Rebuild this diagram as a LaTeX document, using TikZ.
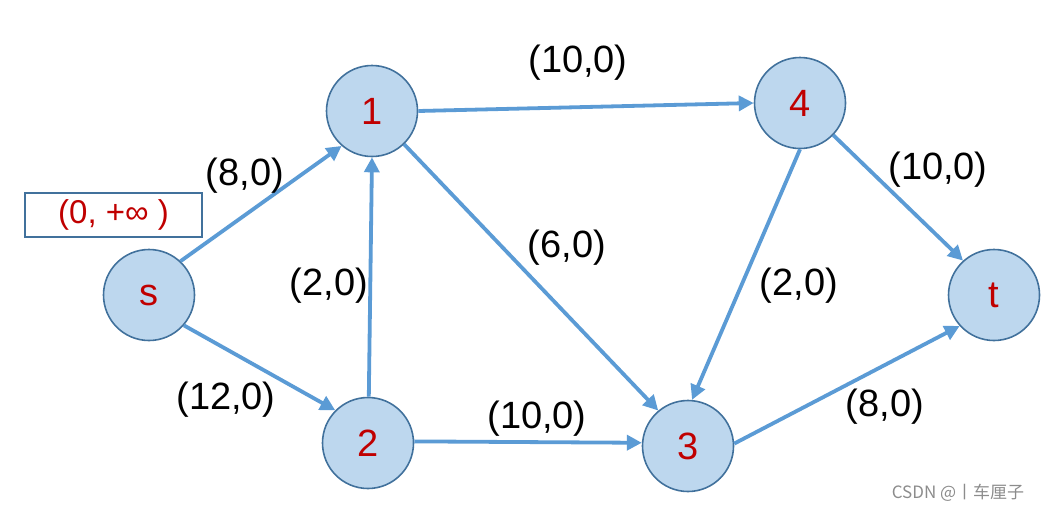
\documentclass[tikz,border=0pt]{standalone}
\usepackage{fontspec}
\setmainfont{Liberation Sans}
\newfontfamily\cjk{Noto Sans CJK SC}
\usetikzlibrary{arrows.meta}
\definecolor{nodefill}{RGB}{189,215,238}
\definecolor{nodeedge}{RGB}{65,113,156}
\definecolor{edgeblue}{RGB}{91,155,213}
\definecolor{numred}{RGB}{192,0,0}
\tikzset{
  vert/.style={circle,draw=nodeedge,fill=nodefill,line width=1.6pt,minimum size=91pt,inner sep=0pt,
    text=numred,font=\fontsize{38}{42}\selectfont},
  edge/.style={draw=edgeblue,line width=3.8pt,-{Triangle[length=15pt,width=15pt]},shorten >=0pt},
  lab/.style={font=\fontsize{38}{42}\selectfont,text=black,inner sep=0pt},
}
\begin{document}
\begin{tikzpicture}[x=1pt,y=-1pt]
\useasboundingbox (0,0) rectangle (1043,512);
\node[vert] (s) at (149,295) {s};
\node[vert] (n1) at (372,111) {1};
\node[vert] (n4) at (800,103) {4};
\node[vert] (t) at (994,295) {t};
\node[vert] (n2) at (368,443) {2};
\node[vert] (n3) at (688,446) {3};
\node[draw=nodeedge,line width=1.6pt,minimum width=177pt,minimum height=44pt,inner sep=0pt,
  text=numred,font=\fontsize{33}{36}\selectfont] (box) at (113.5,215) {(0, +∞ )};
\draw[edge] (s.47) -- (n1.229);
\draw[edge] (s.319) -- (n2.135);
\draw[edge] (n2.89) -- (n1.270);
\draw[edge] (n1.0) -- (n4.180);
\draw[edge] (n1.314) -- (n3.130);
\draw[edge] (n2.2) -- (n3.176);
\draw[edge] (n4.270) -- (n3.85);
\draw[edge] (n4.316) -- (t.132);
\draw[edge] (n3.3) -- (t.222);
\node[lab] (l14) at (578,63) {(10,0)};
\node[lab] (ls1) at (245,176) {(8,0)};
\node[lab] (l21) at (329,286) {(2,0)};
\node[lab] (l13) at (567,248) {(6,0)};
\node[lab] (ls2) at (226,400) {(12,0)};
\node[lab] (l23) at (537,419) {(10,0)};
\node[lab] (l43) at (799,286) {(2,0)};
\node[lab] (l4t) at (938,170) {(10,0)};
\node[lab] (l3t) at (885,407) {(8,0)};
\node[font=\cjk\fontsize{17}{19}\selectfont,text=black!45,inner sep=0pt] (wm) at (958,493) {CSDN @丨车厘子};
\end{tikzpicture}
\end{document}
